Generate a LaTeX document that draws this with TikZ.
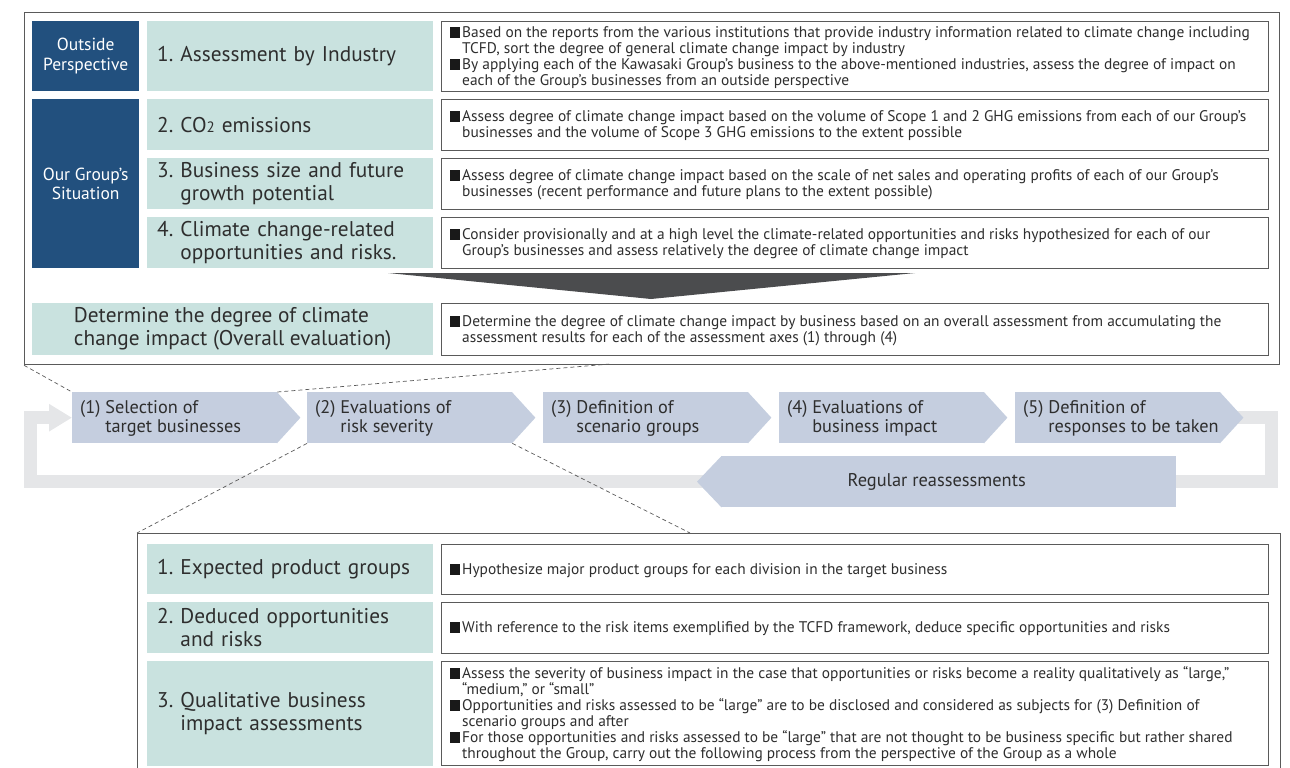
\documentclass[tikz,border=0pt]{standalone}
\usepackage{fontspec}
\setmainfont{PT Sans}
\usetikzlibrary{arrows.meta,calc}

\definecolor{navy}{HTML}{22507E}
\definecolor{tealbg}{HTML}{C9E2DF}
\definecolor{stepbg}{HTML}{C5CEDF}
\definecolor{loopgray}{HTML}{E5E6E8}
\definecolor{frameline}{HTML}{5A5A5A}
\definecolor{txt}{HTML}{2E2E2E}
\definecolor{arrowdark}{HTML}{4B4C4E}

% square bullet and matching indent for continuation lines
\newcommand{\blt}{{\color{black!90}\rule[-0.5pt]{10pt}{11pt}}\hspace{2pt}}
\newcommand{\cnt}{\hspace*{12pt}}

\begin{document}
\frenchspacing
\begin{tikzpicture}[x=1pt,y=-1pt,
  frame/.style={draw=frameline, line width=1.3pt, anchor=north west, inner sep=0pt},
  side/.style={fill=navy, text=white, anchor=north west, minimum width=107pt, inner sep=0pt, align=center, font=\fontsize{17.5}{19.5}\selectfont},
  lab/.style={fill=tealbg, text=txt, anchor=north west, text width=266pt, inner xsep=10pt, inner ysep=0pt, align=left, font=\fontsize{21.3}{23}\selectfont},
  descbox/.style={draw=frameline, line width=0.9pt, fill=white, anchor=north west, minimum width=827pt, inner sep=0pt},
  desctext/.style={anchor=west, inner sep=0pt, align=left, text=txt, font=\fontsize{15.4}{16}\selectfont},
  stepbox/.style={fill=stepbg, anchor=north west, minimum width=205pt, minimum height=51pt, inner sep=0pt},
  steptext/.style={anchor=west, inner sep=0pt, align=left, text=txt, font=\fontsize{18.3}{19}\selectfont},
  zoomline/.style={draw=frameline, line width=0.7pt, dash pattern=on 4pt off 3pt},
]
\useasboundingbox (0,0) rectangle (1290,768);
\clip (0,0) rectangle (1290,768);

% ---------- upper panel: assessment axes ----------
\node[frame, minimum width=1255pt, minimum height=352pt] (topframe) at (24,12) {};

\node[side, minimum height=70pt] (outside) at (32,21) {Outside\\Perspective};
\node[side, minimum height=169pt] (group) at (32,99) {Our Group’s\\Situation};

\node[lab, minimum height=70pt] (l1) at (147,21) {1. Assessment by Industry};
\node[lab, minimum height=51pt] (l2) at (147,99) {2. CO{\fontsize{15}{15}\selectfont 2} emissions};
\node[lab, minimum height=51pt] (l3) at (147,158) {3. Business size and future\\\hphantom{3.\ }growth potential};
\node[lab, minimum height=51pt] (l4) at (147,217) {4. Climate change-related\\\hphantom{4.\ }opportunities and risks.};
\node[fill=tealbg, text=txt, anchor=north west, minimum width=401pt, minimum height=52pt, inner sep=0pt, align=left, font=\fontsize{21.3}{23}\selectfont] (overall) at (32,303) {Determine the degree of climate\\change impact (Overall evaluation)};

\node[descbox, minimum height=70pt] (d1) at (441,21) {};
\node[desctext] (t1) at ($(d1.west)+(9,1)$) {\blt Based on the reports from the various institutions that provide industry information related to climate change including\\\cnt TCFD, sort the degree of general climate change impact by industry\\\blt By applying each of the Kawasaki Group’s business to the above-mentioned industries, assess the degree of impact on\\\cnt each of the Group’s businesses from an outside perspective};

\node[descbox, minimum height=51pt] (d2) at (441,99) {};
\node[desctext] (t2) at ($(d2.west)+(9,1)$) {\blt Assess degree of climate change impact based on the volume of Scope 1 and 2 GHG emissions from each of our Group’s\\\cnt businesses and the volume of Scope 3 GHG emissions to the extent possible};

\node[descbox, minimum height=51pt] (d3) at (441,158) {};
\node[desctext] (t3) at ($(d3.west)+(9,1)$) {\blt Assess degree of climate change impact based on the scale of net sales and operating profits of each of our Group’s\\\cnt businesses (recent performance and future plans to the extent possible)};

\node[descbox, minimum height=51pt] (d4) at (441,217) {};
\node[desctext] (t4) at ($(d4.west)+(9,1)$) {\blt Consider provisionally and at a high level the climate-related opportunities and risks hypothesized for each of our\\\cnt Group’s businesses and assess relatively the degree of climate change impact};

\node[descbox, minimum height=52pt] (d5) at (441,303) {};
\node[desctext] (t5) at ($(d5.west)+(9,1)$) {\blt Determine the degree of climate change impact by business based on an overall assessment from accumulating the\\\cnt assessment results for each of the assessment axes (1) through (4)};

% merging arrow
\fill[arrowdark] (388,273) -- (915,273) -- (651,299) -- cycle;

% ---------- process flow ----------
\node[stepbox] (s1) at (72,392) {};
\node[stepbox] (s2) at (307,392) {};
\node[stepbox] (s3) at (543,392) {};
\node[stepbox] (s4) at (779,392) {};
\node[stepbox] (s5) at (1015,392) {};
\node[stepbox, minimum width=455pt] (reg) at (721,456) {};

% return loop, then the step bodies are painted over it
\coordinate (loopR) at (1271.5,481.5);
\coordinate (loopL) at (30,481.5);
\draw[loopgray, line width=13pt, -{Triangle[width=26pt,length=23pt]}] (s5.east) -| (loopR) -- (loopL) |- (s1.west);

\foreach \s in {s1,s2,s3,s4,s5}{
  \fill[stepbg] (\s.north west) rectangle (\s.south east);
  \fill[stepbg] ($(\s.north east)+(-0.5,0)$) -- ($(\s.east)+(23,0)$) -- ($(\s.south east)+(-0.5,0)$) -- cycle;
}
\fill[stepbg] (reg.north west) rectangle (reg.south east);
\fill[stepbg] ($(reg.north west)+(0.5,0)$) -- ($(reg.west)+(-24,0)$) -- ($(reg.south west)+(0.5,0)$) -- cycle;

\node[steptext] (s1t) at ($(s1.west)+(8,1)$) {(1) Selection of\\\hphantom{(1)\ }target businesses};
\node[steptext] (s2t) at ($(s2.west)+(8,1)$) {(2) Evaluations of\\\hphantom{(2)\ }risk severity};
\node[steptext] (s3t) at ($(s3.west)+(8,1)$) {(3) Definition of\\\hphantom{(3)\ }scenario groups};
\node[steptext] (s4t) at ($(s4.west)+(8,1)$) {(4) Evaluations of\\\hphantom{(4)\ }business impact};
\node[steptext] (s5t) at ($(s5.west)+(8,1)$) {(5) Definition of\\\hphantom{(5)\ }responses to be taken};
\node[text=txt, inner sep=0pt, font=\fontsize{18.4}{19}\selectfont] (regt) at ($(reg.center)+(-12,0)$) {Regular reassessments};

% ---------- lower panel: risk severity detail ----------
\node[frame, minimum width=1143pt, minimum height=300pt] (botframe) at (137,533) {};

\node[lab, minimum height=50pt] (b1) at (147,544) {1. Expected product groups};
\node[lab, minimum height=51pt] (b2) at (147,602) {2. Deduced opportunities\\\hphantom{2.\ }and risks};
\node[lab, minimum height=105pt] (b3) at (147,661) {3. Qualitative business\\\hphantom{3.\ }impact assessments};

\node[descbox, minimum height=50pt] (e1) at (441,544) {};
\node[desctext] (u1) at ($(e1.west)+(9,1)$) {\blt Hypothesize major product groups for each division in the target business};
\node[descbox, minimum height=51pt] (e2) at (441,602) {};
\node[desctext] (u2) at ($(e2.west)+(9,1)$) {\blt With reference to the risk items exemplified by the TCFD framework, deduce specific opportunities and risks};
\node[descbox, minimum height=104pt] (e3) at (441,661) {};
\node[desctext] (u3) at ($(e3.west)+(9,1)$) {\blt Assess the severity of business impact in the case that opportunities or risks become a reality qualitatively as “large,”\\\cnt “medium,” or “small”\\\blt Opportunities and risks assessed to be “large” are to be disclosed and considered as subjects for (3) Definition of\\\cnt scenario groups and after\\\blt For those opportunities and risks assessed to be “large” that are not thought to be business specific but rather shared\\\cnt throughout the Group, carry out the following process from the perspective of the Group as a whole};

% zoom-out guide lines
\coordinate (topcut) at (610,364);
\coordinate (botcut) at (690,533);
\draw[zoomline] (topframe.south west) -- (s1.north west);
\draw[zoomline] (s1.north east) -- (topcut);
\draw[zoomline] (s2.south west) -- (botframe.north west);
\draw[zoomline] (s2.south east) -- (botcut);
\end{tikzpicture}
\end{document}
